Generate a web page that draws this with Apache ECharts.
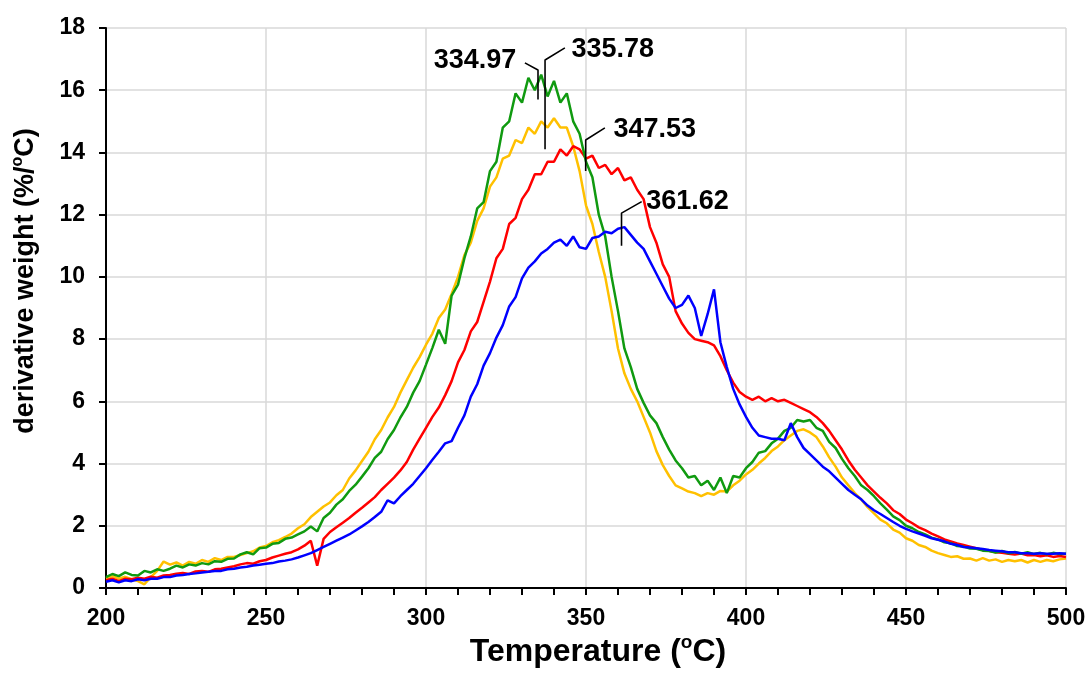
<!DOCTYPE html>
<html>
<head>
<meta charset="utf-8">
<script src="https://cdn.jsdelivr.net/npm/echarts@6/dist/echarts.min.js"></script>
<style>html,body{margin:0;padding:0;background:#fff}#c{width:1090px;height:675px}</style>
</head>
<body>
<div id="c"></div>
<script>
// Temperature (°C), step 2
const temps = [
200,202,204,206,208,210,212,214,216,218,
220,222,224,226,228,230,232,234,236,238,
240,242,244,246,248,250,252,254,256,258,
260,262,264,266,268,270,272,274,276,278,
280,282,284,286,288,290,292,294,296,298,
300,302,304,306,308,310,312,314,316,318,
320,322,324,326,328,330,332,334,336,338,
340,342,344,346,348,350,352,354,356,358,
360,362,364,366,368,370,372,374,376,378,
380,382,384,386,388,390,392,394,396,398,
400,402,404,406,408,410,412,414,416,418,
420,422,424,426,428,430,432,434,436,438,
440,442,444,446,448,450,452,454,456,458,
460,462,464,466,468,470,472,474,476,478,
480,482,484,486,488,490,492,494,496,498,
500];

const greenVals = [
0.35,0.45,0.38,0.50,0.42,0.40,0.55,0.50,0.60,0.55,
0.62,0.72,0.66,0.76,0.72,0.80,0.76,0.86,0.84,0.94,
0.95,1.08,1.15,1.08,1.28,1.30,1.42,1.45,1.58,1.62,
1.72,1.82,1.98,1.82,2.25,2.42,2.68,2.85,3.12,3.32,
3.58,3.85,4.18,4.38,4.78,5.08,5.48,5.82,6.28,6.65,
7.18,7.72,8.30,7.85,9.40,9.75,10.6,11.3,12.2,12.4,
13.4,13.7,14.8,15.0,15.9,15.6,16.4,16.0,16.5,15.8,
16.3,15.6,15.9,15.0,14.6,13.7,13.2,12.0,11.3,10.0,
8.9,7.7,7.1,6.4,5.95,5.55,5.3,4.85,4.45,4.1,
3.85,3.55,3.6,3.3,3.45,3.15,3.55,3.05,3.6,3.55,
3.85,4.05,4.35,4.4,4.65,4.8,5.05,5.15,5.4,5.35,
5.4,5.15,5.05,4.7,4.5,4.15,3.85,3.6,3.3,3.15,
2.95,2.72,2.52,2.3,2.18,2.0,1.92,1.8,1.72,1.62,
1.56,1.47,1.44,1.35,1.33,1.27,1.26,1.2,1.19,1.14,
1.19,1.12,1.16,1.1,1.15,1.09,1.13,1.08,1.13,1.09,
1.1];

const yellowVals = [
0.30,0.38,0.30,0.36,0.28,0.22,0.12,0.35,0.55,0.85,
0.75,0.82,0.72,0.84,0.78,0.90,0.84,0.96,0.90,1.00,
1.00,1.06,1.12,1.18,1.30,1.35,1.47,1.54,1.64,1.75,
1.92,2.05,2.28,2.45,2.62,2.75,2.98,3.15,3.52,3.78,
4.08,4.38,4.78,5.08,5.48,5.82,6.28,6.68,7.08,7.42,
7.82,8.18,8.68,8.95,9.45,10.0,10.7,11.1,11.8,12.2,
12.9,13.2,13.8,13.9,14.4,14.3,14.8,14.6,15.0,14.8,
15.1,14.8,14.8,14.2,13.4,12.3,11.7,10.8,10.0,8.9,
7.7,6.9,6.4,6.0,5.5,5.0,4.4,3.95,3.6,3.3,
3.2,3.1,3.05,2.95,3.05,3.0,3.12,3.1,3.3,3.45,
3.65,3.8,4.0,4.18,4.4,4.55,4.75,4.9,5.05,5.1,
5.0,4.85,4.55,4.2,3.9,3.55,3.3,3.05,2.85,2.6,
2.4,2.2,2.08,1.88,1.78,1.6,1.52,1.38,1.32,1.2,
1.12,1.06,1.0,1.02,0.94,0.95,0.88,0.96,0.88,0.92,
0.84,0.9,0.86,0.9,0.82,0.9,0.84,0.9,0.86,0.92,
0.95];

const redVals = [
0.25,0.30,0.22,0.30,0.28,0.33,0.30,0.36,0.33,0.40,
0.42,0.46,0.48,0.45,0.53,0.55,0.52,0.60,0.62,0.66,
0.70,0.76,0.80,0.78,0.86,0.90,0.98,1.04,1.10,1.15,
1.24,1.36,1.52,0.72,1.58,1.80,1.95,2.10,2.25,2.42,
2.58,2.75,2.92,3.15,3.35,3.55,3.78,4.05,4.45,4.80,
5.15,5.50,5.80,6.20,6.65,7.25,7.65,8.25,8.55,9.20,
9.85,10.6,10.9,11.7,11.9,12.5,12.8,13.3,13.3,13.7,
13.7,14.1,13.9,14.2,14.1,13.8,13.9,13.5,13.6,13.3,
13.5,13.1,13.2,12.8,12.5,11.6,11.1,10.4,10.0,8.9,
8.5,8.2,8.0,7.95,7.9,7.8,7.45,7.0,6.6,6.3,
6.15,6.05,6.15,6.0,6.1,6.0,6.05,5.95,5.85,5.75,
5.65,5.5,5.3,5.05,4.75,4.45,4.1,3.8,3.55,3.3,
3.1,2.9,2.72,2.5,2.38,2.2,2.08,1.95,1.86,1.75,
1.66,1.56,1.5,1.43,1.38,1.33,1.28,1.22,1.2,1.15,
1.13,1.1,1.08,1.11,1.05,1.06,1.02,1.05,1.0,1.03,
1.0];

const blueVals = [
0.20,0.25,0.18,0.25,0.22,0.28,0.25,0.30,0.30,0.35,
0.35,0.40,0.42,0.45,0.47,0.50,0.52,0.55,0.55,0.60,
0.62,0.66,0.68,0.72,0.75,0.78,0.80,0.85,0.88,0.92,
0.98,1.05,1.12,1.22,1.32,1.42,1.52,1.62,1.72,1.85,
1.98,2.12,2.28,2.45,2.82,2.72,2.95,3.15,3.35,3.60,
3.85,4.12,4.38,4.65,4.72,5.15,5.55,6.15,6.55,7.15,
7.55,8.05,8.45,9.05,9.35,9.95,10.3,10.5,10.75,10.9,
11.1,11.2,11.0,11.3,10.95,10.9,11.25,11.3,11.45,11.4,
11.55,11.6,11.35,11.1,10.9,10.5,10.1,9.7,9.3,9.0,
9.1,9.4,9.0,8.1,8.8,9.6,7.9,7.1,6.4,5.9,
5.5,5.15,4.9,4.85,4.8,4.8,4.75,5.3,4.85,4.5,
4.3,4.1,3.9,3.75,3.55,3.35,3.15,3.0,2.85,2.65,
2.5,2.38,2.25,2.12,2.0,1.9,1.82,1.75,1.68,1.6,
1.55,1.5,1.42,1.38,1.32,1.3,1.28,1.25,1.22,1.2,
1.18,1.15,1.15,1.12,1.12,1.1,1.12,1.1,1.1,1.12,
1.1];

// Peak annotations: label text, leader polyline (data coords), label side
const annoLabels = ['334.97', '335.78', '347.53', '361.62'];
const annoLeaderX = [[330.9, 335.0, 335.0], [343.4, 337.2, 337.2], [355.9, 349.9, 349.9], [367.4, 361.1, 361.1]];
const annoLeaderY = [[16.88, 16.65, 15.7], [17.36, 16.97, 14.1], [14.79, 14.4, 13.4], [12.42, 12.05, 11.0]];
const annoSide = ['left', 'right', 'right', 'right'];

const FONT = "'Liberation Sans', Arial, Helvetica, sans-serif";
const toPairs = vals => temps.map((t, i) => [t, vals[i]]);

function curve(name, vals, color) {
  return {
    name: name, type: 'line', data: toPairs(vals), showSymbol: false, symbol: 'none',
    lineStyle: { color: color, width: 2.5 }, animation: false, z: 2,
    emphasis: { disabled: true }
  };
}

const series = [
  curve('yellow', yellowVals, '#ffc000'),
  curve('red', redVals, '#ff0000'),
  curve('green', greenVals, '#109a10'),
  curve('blue', blueVals, '#0000ff')
];

const labelOffsetY = [-2, 2, 2, 0];
const labelDist = [8, 6, 8, 4];
annoLabels.forEach((lab, k) => {
  series.push({
    type: 'line', data: annoLeaderX[k].map((x, j) => [x, annoLeaderY[k][j]]),
    symbol: 'none', lineStyle: { color: '#000', width: 1.6 }, animation: false, z: 5,
    emphasis: { disabled: true }
  });
  series.push({
    type: 'scatter', symbolSize: 1, z: 6, animation: false,
    itemStyle: { opacity: 0 },
    emphasis: { disabled: true },
    data: [[annoLeaderX[k][0], annoLeaderY[k][0]]],
    label: {
      show: true, formatter: lab, position: annoSide[k],
      distance: labelDist[k], offset: [0, labelOffsetY[k]], opacity: 1,
      color: '#000', fontSize: 27, fontWeight: 'bold', fontFamily: FONT
    }
  });
});

const chart = echarts.init(document.getElementById('c'), null, { renderer: 'canvas' });
chart.setOption({
  backgroundColor: '#fff',
  animation: false,
  grid: { left: 106, right: 24, top: 28, bottom: 87, containLabel: false },
  xAxis: {
    type: 'value', min: 200, max: 500, interval: 50,
    axisLine: { show: true, onZero: false, lineStyle: { color: '#000', width: 2 } },
    axisTick: { show: true, length: 7, lineStyle: { color: '#000', width: 2 } },
    minorTick: { show: true, splitNumber: 5, length: 7, lineStyle: { color: '#000', width: 2 } },
    splitLine: { show: true, lineStyle: { color: '#d9d9d9', width: 1.5 } },
    axisLabel: { color: '#000', fontSize: 23, fontWeight: 'bold', fontFamily: FONT, margin: 19 }
  },
  yAxis: {
    type: 'value', min: 0, max: 18, interval: 2,
    axisLine: { show: true, onZero: false, lineStyle: { color: '#000', width: 2 } },
    axisTick: { show: true, length: 7, lineStyle: { color: '#000', width: 2 } },
    splitLine: { show: true, lineStyle: { color: '#d9d9d9', width: 1.5 } },
    axisLabel: { color: '#000', fontSize: 23, fontWeight: 'bold', fontFamily: FONT, margin: 21 }
  },
  graphic: [
    {
      type: 'text', x: 598, y: 652, z: 10,
      style: {
        text: '{a|Temperature (}{s|o}{a|C)}', align: 'center', verticalAlign: 'middle',
        rich: {
          a: { fontSize: 32, fontWeight: 'bold', fontFamily: FONT, color: '#000', lineHeight: 38 },
          s: { fontSize: 19, fontWeight: 'bold', fontFamily: FONT, color: '#000', verticalAlign: 'top', lineHeight: 38, padding: [0, 0, 14, 0] }
        }
      }
    },
    {
      type: 'text', x: 26, y: 281, rotation: Math.PI / 2, z: 10,
      style: {
        text: '{a|derivative weight (%/}{s|o}{a|C)}', align: 'center', verticalAlign: 'middle',
        rich: {
          a: { fontSize: 27, fontWeight: 'bold', fontFamily: FONT, color: '#000', lineHeight: 32 },
          s: { fontSize: 16, fontWeight: 'bold', fontFamily: FONT, color: '#000', verticalAlign: 'top', lineHeight: 32, padding: [0, 0, 11, 0] }
        }
      }
    }
  ],
  series: series
});
</script>
</body>
</html>
